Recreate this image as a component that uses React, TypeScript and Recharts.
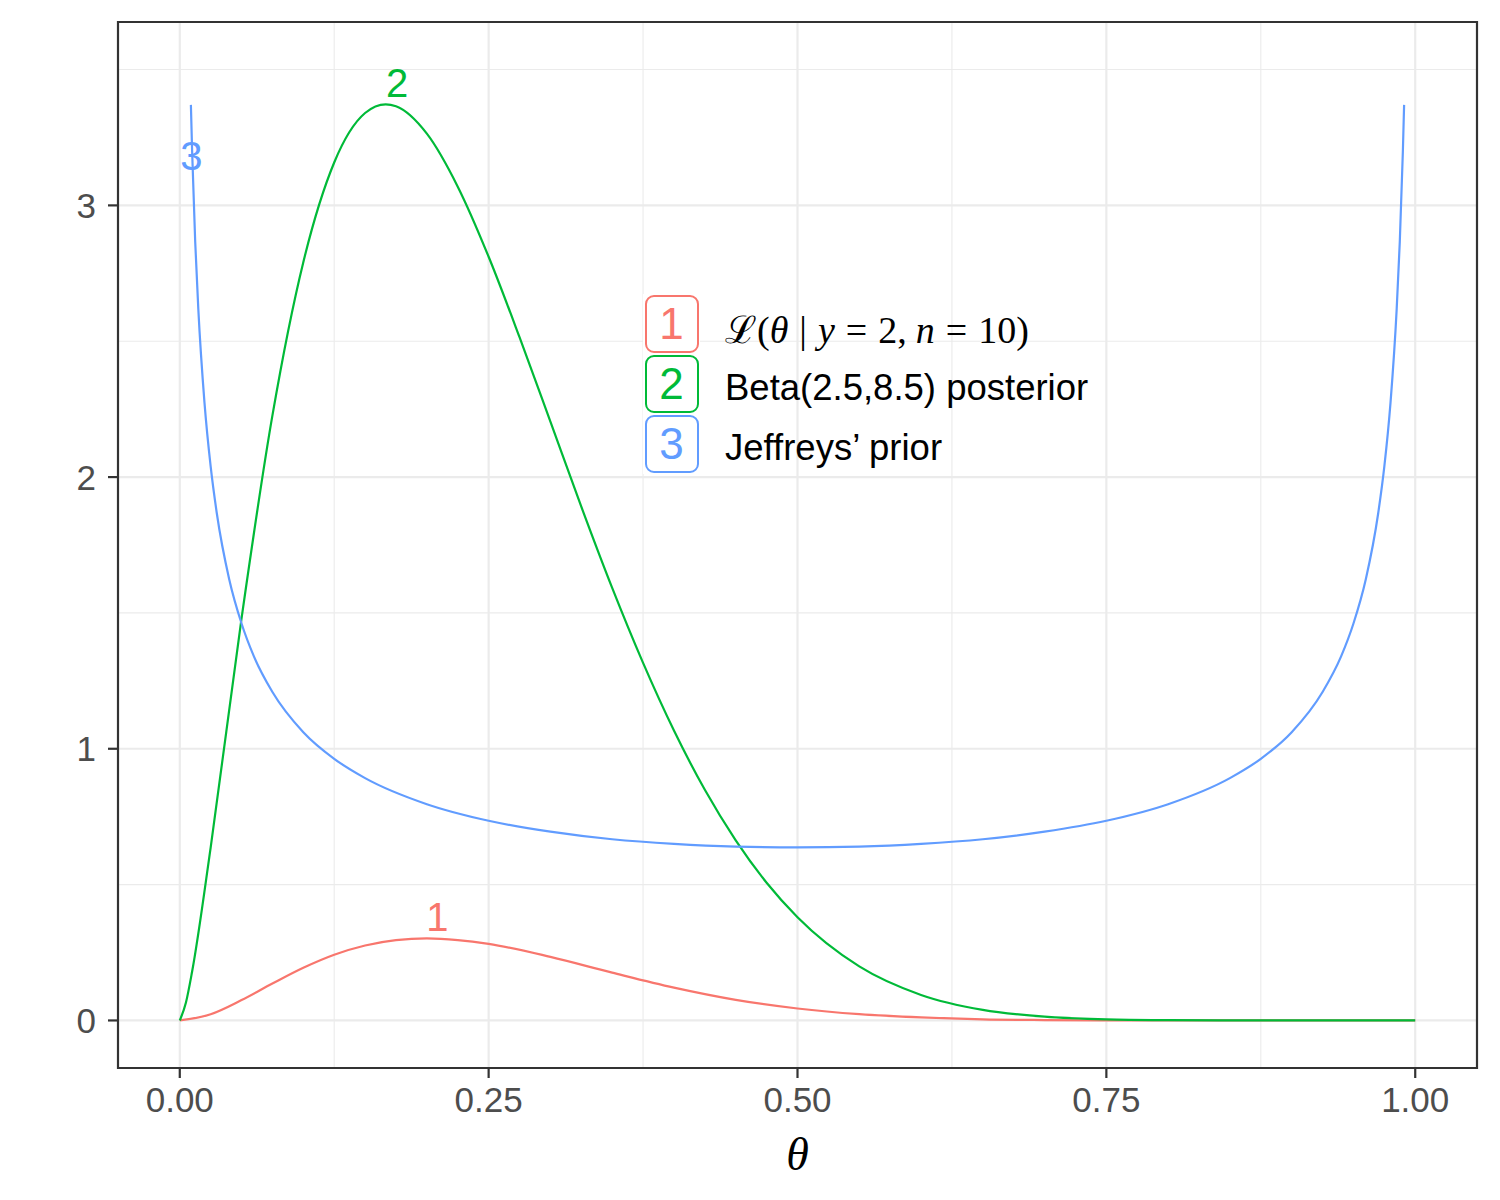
import React from "react";
import {
  LineChart,
  Line,
  XAxis,
  YAxis,
  CartesianGrid,
  ReferenceArea,
  Scatter,
  Legend,
} from "recharts";

// likelihood L(theta | y = 2, n = 10)
const likeTheta = [0, 0.025, 0.05, 0.075, 0.1, 0.125, 0.15, 0.175, 0.2, 0.225, 0.25, 0.3, 0.35, 0.4, 0.45, 0.5, 0.55, 0.6, 0.65, 0.7, 0.75, 0.8, 0.85, 0.9, 0.95, 1];
const likeValues = [0, 0.023, 0.075, 0.136, 0.194, 0.242, 0.276, 0.296, 0.302, 0.296, 0.282, 0.234, 0.176, 0.121, 0.076, 0.044, 0.023, 0.011, 0.004, 0.0015, 0.0004, 0.0001, 0, 0, 0, 0];

// Beta(2.5, 8.5) posterior
const postTheta = [0, 0.005, 0.01, 0.025, 0.05, 0.075, 0.1, 0.125, 0.15, 0.1667, 0.175, 0.2, 0.225, 0.25, 0.275, 0.3, 0.325, 0.35, 0.375, 0.4, 0.425, 0.45, 0.475, 0.5, 0.55, 0.6, 0.65, 0.7, 0.75, 0.8, 0.85, 0.9, 0.95, 1];
const postValues = [0, 0.066, 0.18, 0.636, 1.48, 2.227, 2.791, 3.158, 3.34, 3.372, 3.365, 3.264, 3.069, 2.811, 2.515, 2.204, 1.891, 1.592, 1.316, 1.067, 0.849, 0.663, 0.507, 0.38, 0.199, 0.094, 0.039, 0.014, 0.004, 0.001, 0.0001, 0, 0, 0];

// Jeffreys' prior
const jeffTheta = [0.009, 0.01, 0.0125, 0.015, 0.02, 0.025, 0.03, 0.04, 0.05, 0.06, 0.075, 0.1, 0.125, 0.15, 0.2, 0.25, 0.3, 0.35, 0.4, 0.45, 0.5, 0.55, 0.6, 0.65, 0.7, 0.75, 0.8, 0.85, 0.875, 0.9, 0.925, 0.94, 0.95, 0.96, 0.97, 0.975, 0.98, 0.985, 0.9875, 0.99, 0.991];
const jeffValues = [3.37, 3.199, 2.865, 2.619, 2.274, 2.039, 1.866, 1.624, 1.461, 1.34, 1.209, 1.061, 0.963, 0.892, 0.796, 0.735, 0.695, 0.667, 0.65, 0.64, 0.637, 0.64, 0.65, 0.667, 0.695, 0.735, 0.796, 0.892, 0.963, 1.061, 1.209, 1.34, 1.461, 1.624, 1.866, 2.039, 2.274, 2.619, 2.865, 3.199, 3.37];

// direct labels on the curves
const labelTheta = [0.2085, 0.176, 0.0094];
const labelValue = [0.381, 3.45, 3.18];
const labelText = ["1", "2", "3"];

const seriesColors = ["#F8766D", "#00BA38", "#619CFF"];

const xTicks = [0, 0.25, 0.5, 0.75, 1];
const xMinor = [0.125, 0.375, 0.625, 0.875];
const yTicks = [0, 1, 2, 3];
const yMinor = [0.5, 1.5, 2.5, 3.5];

const toRows = (xs: number[], ys: number[]) => xs.map((t, i) => ({ theta: t, value: ys[i] }));

const likeData = toRows(likeTheta, likeValues);
const postData = toRows(postTheta, postValues);
const jeffData = toRows(jeffTheta, jeffValues);
const labelData = labelTheta.map((t, i) => ({ theta: t, value: labelValue[i], text: labelText[i], color: seriesColors[i] }));

const sans = "'Liberation Sans', Arial, Helvetica, sans-serif";
const serif = "'Liberation Serif', 'DejaVu Serif', serif";

const gap = (w: number) => <span style={{ display: "inline-block", width: w }} />;

const MathLabel = () => (
  <span style={{ fontFamily: serif, fontSize: 38, whiteSpace: "nowrap" }}>
    <span>ℒ(</span>
    <i>θ</i>
    {gap(11)}
    <span>|</span>
    {gap(11)}
    <i>y</i>
    {gap(11)}
    <span>=</span>
    {gap(11)}
    <span>2,</span>
    {gap(9)}
    <i>n</i>
    {gap(11)}
    <span>=</span>
    {gap(11)}
    <span>10)</span>
  </span>
);

const legendLabels: React.ReactNode[] = [
  <MathLabel />,
  "Beta(2.5,8.5) posterior",
  "Jeffreys’ prior",
];

const renderLegend = () => (
  <div style={{ display: "flex", flexDirection: "column" }}>
    {labelText.map((num, i) => (
      <div key={num} style={{ display: "flex", alignItems: "center", height: 60 }}>
        <div
          style={{
            width: 57,
            height: 60,
            background: "#fff",
            display: "flex",
            alignItems: "center",
            justifyContent: "center",
          }}
        >
          <div
            style={{
              width: 54,
              height: 58,
              boxSizing: "border-box",
              border: `2px solid ${seriesColors[i]}`,
              borderRadius: 9,
              color: seriesColors[i],
              fontFamily: sans,
              fontSize: 44,
              lineHeight: "54px",
              textAlign: "center",
            }}
          >
            {num}
          </div>
        </div>
        <div
          style={{
            marginLeft: 25,
            paddingTop: 8,
            fontFamily: sans,
            fontSize: 36.5,
            color: "#000",
            whiteSpace: "nowrap",
          }}
        >
          {legendLabels[i]}
        </div>
      </div>
    ))}
  </div>
);

const CurveLabel = (props: any) => {
  const { cx, cy, payload } = props;
  return (
    <text
      x={cx}
      y={cy}
      textAnchor="middle"
      dominantBaseline="central"
      fill={payload.color}
      fontSize={40}
      fontFamily={sans}
    >
      {payload.text}
    </text>
  );
};

export default function App() {
  return (
    <div style={{ position: "absolute", left: 0, top: 0, background: "#fff" }}>
      <LineChart width={1500} height={1200} margin={{ top: 22, right: 23, bottom: 0, left: 0 }}>
        <CartesianGrid
          horizontalValues={yMinor}
          verticalValues={xMinor}
          stroke="#EBEBEB"
          strokeWidth={1.1}
        />
        <CartesianGrid
          horizontalValues={yTicks}
          verticalValues={xTicks}
          stroke="#EBEBEB"
          strokeWidth={2.2}
        />
        <XAxis
          dataKey="theta"
          type="number"
          domain={[-0.05, 1.05]}
          ticks={xTicks}
          tickFormatter={(v: number) => v.toFixed(2)}
          height={132}
          axisLine={false}
          tickSize={10}
          tickMargin={9}
          tickLine={{ stroke: "#333333", strokeWidth: 2.2 }}
          tick={{ fill: "#4D4D4D", fontSize: 35, fontFamily: sans }}
          allowDataOverflow
          label={{
            value: "θ",
            position: "insideBottom",
            offset: 30,
            style: { fontFamily: serif, fontStyle: "italic", fontSize: 46, fill: "#000" },
          }}
        />
        <YAxis
          dataKey="value"
          type="number"
          domain={[-0.175, 3.675]}
          ticks={yTicks}
          width={118}
          axisLine={false}
          tickSize={10}
          tickMargin={12}
          tickLine={{ stroke: "#333333", strokeWidth: 2.2 }}
          tick={{ fill: "#4D4D4D", fontSize: 35, fontFamily: sans }}
          allowDataOverflow
        />
        <Line
          data={likeData}
          dataKey="value"
          name="likelihood"
          type="monotone"
          stroke={seriesColors[0]}
          strokeWidth={2.2}
          dot={false}
          activeDot={false}
          isAnimationActive={false}
        />
        <Line
          data={postData}
          dataKey="value"
          name="posterior"
          type="monotone"
          stroke={seriesColors[1]}
          strokeWidth={2.2}
          dot={false}
          activeDot={false}
          isAnimationActive={false}
        />
        <Line
          data={jeffData}
          dataKey="value"
          name="jeffreys"
          type="monotone"
          stroke={seriesColors[2]}
          strokeWidth={2.2}
          dot={false}
          activeDot={false}
          isAnimationActive={false}
        />
        <Scatter data={labelData} dataKey="value" shape={CurveLabel} isAnimationActive={false} />
        <ReferenceArea
          x1={-0.05}
          x2={1.05}
          y1={-0.175}
          y2={3.675}
          fill="none"
          stroke="#333333"
          strokeWidth={2.2}
        />
        <Legend
          layout="vertical"
          align="center"
          verticalAlign="middle"
          content={renderLegend}
          wrapperStyle={{ left: 643, top: 294, width: "auto", height: "auto" }}
        />
      </LineChart>
    </div>
  );
}
